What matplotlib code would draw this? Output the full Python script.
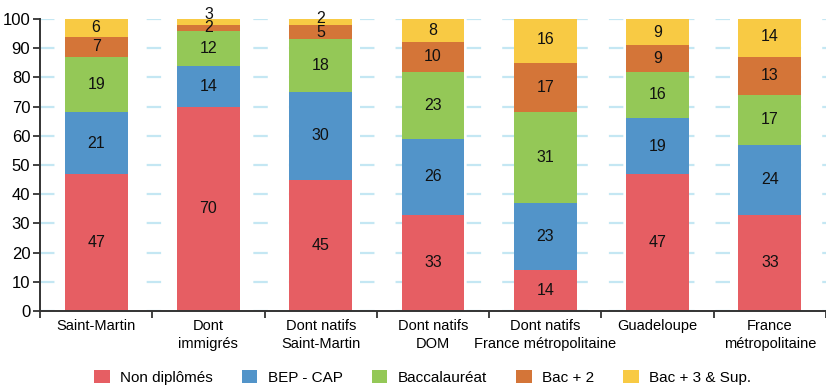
import matplotlib
matplotlib.use("Agg")
import matplotlib.pyplot as plt
import numpy as np

plt.rcParams["font.family"] = ["Liberation Sans", "DejaVu Sans"]

categories = ["Saint-Martin", "Dont\nimmigrés", "Dont natifs\nSaint-Martin", "Dont natifs\nDOM",
              "Dont natifs\nFrance métropolitaine", "Guadeloupe", "France\nmétropolitaine"]
series_names = ["Non diplômés", "BEP - CAP", "Baccalauréat", "Bac + 2", "Bac + 3 & Sup."]
non_diplomes = [47, 70, 45, 33, 14, 47, 33]
bep_cap = [21, 14, 30, 26, 23, 19, 24]
baccalaureat = [19, 12, 18, 23, 31, 16, 17]
bac_2 = [7, 2, 5, 10, 17, 9, 13]
bac_3_sup = [6, 3, 2, 8, 16, 9, 14]
colors = ["#E65E63", "#5294C9", "#94C857", "#D47538", "#F8CA44"]

series = [non_diplomes, bep_cap, baccalaureat, bac_2, bac_3_sup]

fig = plt.figure(figsize=(8.26, 3.87), dpi=100)
ax = fig.add_axes([40 / 826, 76 / 387, 786 / 826, 292 / 387])

x = np.arange(len(categories))
bottom = np.zeros(len(categories))
last_label_y = np.full(len(categories), -100.0)
for name, vals, col in zip(series_names, series, colors):
    vals = np.array(vals, dtype=float)
    ax.bar(x, vals, width=0.56, bottom=bottom, color=col, label=name, zorder=2)
    for i, v in enumerate(vals):
        y = bottom[i] + v / 2
        # keep labels of thin stacked segments from overlapping
        if y - last_label_y[i] < 4:
            y = last_label_y[i] + 4.6
        last_label_y[i] = y
        ax.text(x[i], y, f"{int(v)}", ha="center", va="center", fontsize=11.5,
                color="#111111", zorder=3, clip_on=False)
    bottom += vals

ax.set_ylim(0, 100)
ax.set_xlim(-0.5, 6.395)
ax.set_yticks(np.arange(0, 101, 10))
ax.yaxis.grid(True, color="#C4E7F3", linewidth=1.6, linestyle=(0, (6.5, 9.5)), zorder=0)
ax.set_axisbelow(True)

ax.set_xticks(x)
ax.set_xticklabels(categories, fontsize=10.5, linespacing=1.35)
ax.tick_params(axis="x", length=0, pad=6)
ax.set_xticks(np.arange(-0.5, 6.6, 1), minor=True)
ax.tick_params(axis="x", which="minor", length=5, width=1.3, color="#333333")
ax.tick_params(axis="y", length=5, width=1.3, color="#333333", labelsize=12, pad=2)

for s in ["top", "right"]:
    ax.spines[s].set_visible(False)
for s in ["left", "bottom"]:
    ax.spines[s].set_color("#333333")
    ax.spines[s].set_linewidth(1.4)

handles, labels = ax.get_legend_handles_labels()
fig.legend(handles, labels, loc="center", bbox_to_anchor=(0.512, 0.025), ncol=5,
           frameon=False, fontsize=11, handlelength=1.0, handleheight=1.0,
           columnspacing=1.9, handletextpad=0.7)

fig.savefig("out.png", dpi=100)
